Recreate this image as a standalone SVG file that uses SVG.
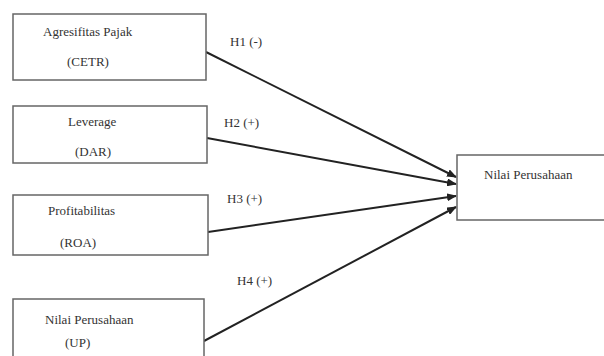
<svg xmlns="http://www.w3.org/2000/svg" width="604" height="356" viewBox="0 0 604 356">
<defs>
<style>
.box{fill:#fff;stroke:#666;stroke-width:1.5}
text{font-family:'Liberation Serif','DejaVu Serif',serif;font-size:13px;fill:#333}
.c{stroke:#222;stroke-width:2;fill:none;marker-end:url(#ah)}
</style>
<marker id="ah" markerWidth="10" markerHeight="8" refX="9" refY="4" orient="auto" markerUnits="userSpaceOnUse">
<path d="M0,0 L10,4 L0,8 Z" fill="#222"/>
</marker>
</defs>
<rect width="604" height="356" fill="#fff"/>
<g id="connectors" font-family="Liberation Serif, serif">
<line class="c" x1="206" y1="52" x2="456" y2="177"/>
<line class="c" x1="207" y1="138" x2="456" y2="184"/>
<line class="c" x1="208" y1="232" x2="456" y2="196"/>
<line class="c" x1="204" y1="341" x2="456" y2="207"/>
<text x="230" y="46">H1 (-)</text>
<text x="224" y="127">H2 (+)</text>
<text x="227" y="203">H3 (+)</text>
<text x="237" y="285">H4 (+)</text>
</g>
<g id="n1">
<rect class="box" x="13" y="14" width="193" height="66"/>
<text x="43" y="36">Agresifitas Pajak</text>
<text x="67" y="66">(CETR)</text>
</g>
<g id="n2">
<rect class="box" x="13" y="106" width="194" height="57"/>
<text x="68" y="126">Leverage</text>
<text x="75" y="156">(DAR)</text>
</g>
<g id="n3">
<rect class="box" x="13" y="195" width="195" height="60"/>
<text x="48" y="215">Profitabilitas</text>
<text x="60" y="247">(ROA)</text>
</g>
<g id="n4">
<rect class="box" x="13" y="299" width="191" height="70"/>
<text x="45" y="324">Nilai Perusahaan</text>
<text x="65" y="347">(UP)</text>
</g>
<g id="n5">
<rect class="box" x="457" y="155" width="155" height="65"/>
<text x="484" y="179">Nilai Perusahaan</text>
</g>
</svg>
